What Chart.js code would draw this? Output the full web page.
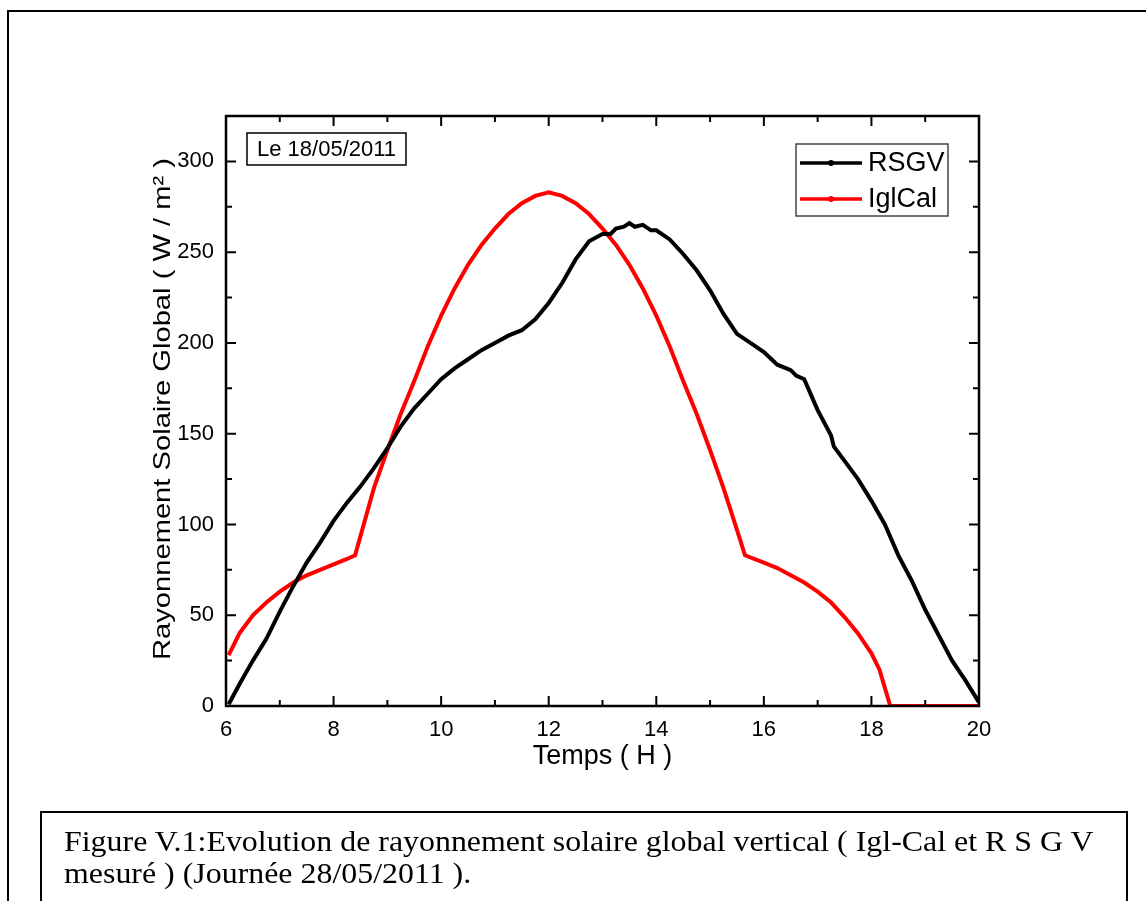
<!DOCTYPE html>
<html>
<head>
<meta charset="utf-8">
<script src="https://cdn.jsdelivr.net/npm/chart.js@4.4.1/dist/chart.umd.min.js"></script>
<style>
  body { margin:0; background:#fff; width:1146px; height:901px; overflow:hidden; position:relative; }
  #wrap { position:absolute; left:0; top:0; width:1146px; height:901px; }
  #frame { position:absolute; left:7px; top:10px; width:1200px; height:1000px; border:2px solid #000; box-sizing:border-box; }
  #caption { position:absolute; left:40px; top:811px; width:1088px; height:200px; border:2px solid #000; box-sizing:border-box; overflow:hidden; }
  #caption div { font-family:"Liberation Serif","Times New Roman",serif; font-size:29px; line-height:32px; color:#000;
                 position:absolute; left:22px; top:12px; white-space:nowrap; transform:scaleX(1.1); transform-origin:0 0; }
</style>
</head>
<body>
<div id="frame"></div>
<div id="wrap"><canvas id="mycanvas" width="1146" height="901"></canvas></div>
<div id="caption"><div>Figure V.1:Evolution de rayonnement solaire global vertical ( Igl-Cal et R S G V<br>mesuré ) (Journée 28/05/2011 ).</div></div>
<script>
// mesure RSGV (W/m2)
var hoursRSGV = [6.05,6.25,6.5,6.75,7.0,7.25,7.5,7.75,8.0,8.25,8.5,8.75,9.0,9.25,9.5,9.75,10.0,10.25,10.5,10.75,11.0,11.25,11.5,11.75,12.0,12.25,12.5,12.75,13.0,13.15,13.25,13.4,13.5,13.6,13.75,13.9,14.0,14.25,14.5,14.75,15.0,15.25,15.5,15.75,16.0,16.25,16.5,16.6,16.75,17.0,17.25,17.3,17.5,17.75,18.0,18.25,18.5,18.75,19.0,19.25,19.5,19.75,20.0];
var valuesRSGV = [1,12,25,37,52,66,79,90,102,112,121,131,142,154,164,172,180,186,191,196,200,204,207,213,222,233,246,256,260,260,263,264,266,264,265,262,262,257,249,240,229,216,205,200,195,188,185,182,180,163,149,143,135,125,113,100,83,69,53,39,25,14,2];
// calcul IglCal
var hoursIgl = [6.05,6.25,6.5,6.75,7.0,7.25,7.5,7.75,8.0,8.25,8.4,8.75,9.0,9.25,9.5,9.75,10.0,10.25,10.5,10.75,11.0,11.25,11.5,11.75,12.0,12.25,12.5,12.75,13.0,13.25,13.5,13.75,14.0,14.25,14.5,14.75,15.0,15.25,15.5,15.65,16.0,16.25,16.5,16.75,17.0,17.25,17.5,17.75,18.0,18.15,18.35,20.0];
var valuesIgl = [28,40,50,57,63,68,72,75,78,81,83,120,141,161,179,198,215,230,243,254,263,271,277,281,283,281,277,271,263,254,243,230,215,198,179,161,141,120,97,83,79,76,72,68,63,57,49,40,29,20,0,0];

var xTicks = [6,8,10,12,14,16,18,20];
var yTicks = [0,50,100,150,200,250,300];
var dateLabel = "Le 18/05/2011";
var yTitle = "Rayonnement Solaire Global ( W / m² )";

function toPoints(xs, ys){
  var pts = [];
  for (var i in xs) pts.push({x: xs[i], y: ys[i]});
  return pts;
}

var font = '"Liberation Sans", Arial, sans-serif';

// cadre, graduations internes, titre Y, etiquette et legende
var decor = {
  id: 'decor',
  afterDraw: function(chart){
    var ctx = chart.ctx, a = chart.chartArea;
    var sx = chart.scales.x, sy = chart.scales.y;
    ctx.save();
    ctx.strokeStyle = '#000';
    ctx.lineWidth = 2.5;
    ctx.strokeRect(a.left, a.top, a.right - a.left, a.bottom - a.top);
    ctx.lineWidth = 2;
    ctx.beginPath();
    for (var h = 6; h <= 20; h++) {
      var px = sx.getPixelForValue(h);
      var len = (h % 2 === 0) ? 10 : 6;
      ctx.moveTo(px, a.bottom); ctx.lineTo(px, a.bottom - len);
      ctx.moveTo(px, a.top); ctx.lineTo(px, a.top + len);
    }
    for (var v = 0; v <= 325; v += 25) {
      var py = sy.getPixelForValue(v);
      var l2 = (v % 50 === 0) ? 10 : 6;
      ctx.moveTo(a.left, py); ctx.lineTo(a.left + l2, py);
      ctx.moveTo(a.right, py); ctx.lineTo(a.right - l2, py);
    }
    ctx.stroke();

    // titre axe Y (etire comme l'original)
    ctx.save();
    ctx.fillStyle = '#000';
    ctx.font = '24px ' + font;
    ctx.textAlign = 'center';
    ctx.textBaseline = 'middle';
    var tw = ctx.measureText(yTitle).width;
    ctx.translate(163, (a.top + a.bottom) / 2 - 2);
    ctx.rotate(-Math.PI / 2);
    ctx.scale(502 / tw, 1);
    ctx.fillText(yTitle, 0, 0);
    ctx.restore();

    // etiquette date
    ctx.lineWidth = 1.5;
    ctx.strokeStyle = '#000';
    ctx.strokeRect(a.left + 21, a.top + 17, 159, 32);
    ctx.fillStyle = '#000';
    ctx.font = '22px ' + font;
    ctx.textBaseline = 'middle';
    ctx.fillText(dateLabel, a.left + 31, a.top + 34);

    // legende
    var lx = a.right - 183, ly = a.top + 28;
    ctx.strokeStyle = '#444';
    ctx.lineWidth = 1.5;
    ctx.strokeRect(lx, ly, 152, 72);
    chart.data.datasets.forEach(function(ds, i){
      var y = ly + 19 + i * 36;
      ctx.strokeStyle = ds.borderColor;
      ctx.fillStyle = ds.borderColor;
      ctx.lineWidth = 3.5;
      ctx.beginPath(); ctx.moveTo(lx + 4, y); ctx.lineTo(lx + 66, y); ctx.stroke();
      ctx.beginPath(); ctx.arc(lx + 35, y, 3, 0, Math.PI * 2); ctx.fill();
      ctx.fillStyle = '#000';
      ctx.font = '27px ' + font;
      ctx.fillText(ds.label, lx + 72, y + 1);
    });
    ctx.restore();
  }
};

var barGraph = new Chart(document.getElementById('mycanvas'), {
  type: 'line',
  data: {
    datasets: [
      { label: 'RSGV', data: toPoints(hoursRSGV, valuesRSGV), borderColor: '#000', borderWidth: 4, pointRadius: 0, tension: 0 },
      { label: 'IglCal', data: toPoints(hoursIgl, valuesIgl), borderColor: '#ff0000', borderWidth: 4, pointRadius: 0, tension: 0 }
    ]
  },
  options: {
    responsive: false,
    animation: false,
    devicePixelRatio: 1,
    layout: { padding: { left: 0, top: 116, right: 167, bottom: 115 } },
    plugins: { legend: { display: false }, tooltip: { enabled: false } },
    scales: {
      x: {
        type: 'linear', min: 6, max: 20,
        afterBuildTicks: function(s){ s.ticks = xTicks.map(function(v){ return {value: v}; }); },
        afterFit: function(s){ s.height = 80; },
        grid: { display: false, drawTicks: false },
        border: { display: false },
        ticks: { color: '#000', font: { family: font, size: 22 }, padding: 11 },
        title: { display: true, text: 'Temps ( H )', color: '#000', font: { family: font, size: 27 }, padding: { top: 0, bottom: 13 } }
      },
      y: {
        type: 'linear', min: 0, max: 325,
        afterBuildTicks: function(s){ s.ticks = yTicks.map(function(v){ return {value: v}; }); },
        afterFit: function(s){ s.width = 226; },
        grid: { display: false, drawTicks: false },
        border: { display: false },
        ticks: { color: '#000', font: { family: font, size: 22 }, padding: 12 },
        title: { display: false }
      }
    }
  },
  plugins: [decor]
});
</script>
</body>
</html>
